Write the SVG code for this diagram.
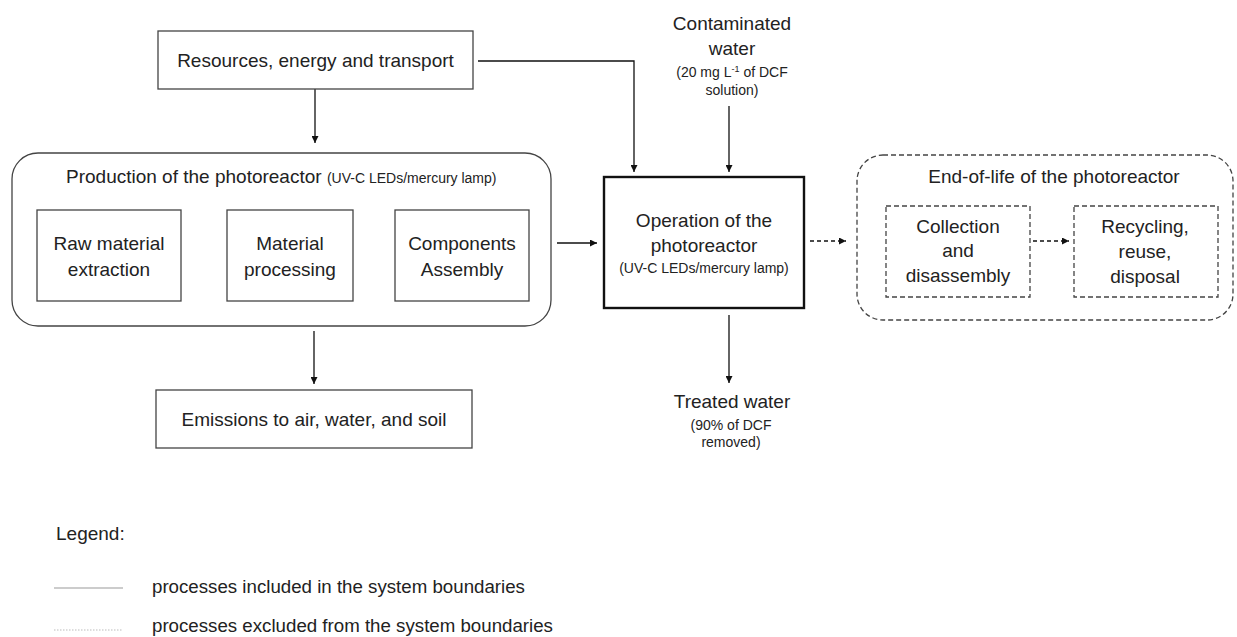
<svg xmlns="http://www.w3.org/2000/svg" width="1237" height="637" viewBox="0 0 1237 637">
<defs>
<marker id="ah" viewBox="0 0 10 10" refX="10" refY="5" markerWidth="7" markerHeight="7" markerUnits="userSpaceOnUse" orient="auto"><path d="M0,0 L10,5 L0,10 z" fill="#111"/></marker>
<style>
text{font-family:"Liberation Sans",Arial,sans-serif;fill:#222;}
.t{font-size:19px;text-anchor:middle;}
.s{font-size:14px;text-anchor:middle;}
.box{fill:#fff;stroke:#444;stroke-width:1.3;}
.dbox{fill:none;stroke:#444;stroke-width:1.3;stroke-dasharray:5 3;}
.c{fill:none;stroke:#111;stroke-width:1.3;}
.cd{fill:none;stroke:#111;stroke-width:1.3;stroke-dasharray:4 3;}
</style>
</defs>
<rect width="1237" height="637" fill="#fff"/>

<g id="connectors">
<path class="c" d="M315,89 V143" marker-end="url(#ah)"/>
<path class="c" d="M478,61 H634 V172" marker-end="url(#ah)"/>
<path class="c" d="M729,106 V172" marker-end="url(#ah)"/>
<path class="c" d="M184,257 H222" marker-end="url(#ah)"/>
<path class="c" d="M353,258 H391" marker-end="url(#ah)"/>
<path class="c" d="M557,243 H597" marker-end="url(#ah)"/>
<path class="cd" d="M810,241 H846" marker-end="url(#ah)"/>
<path class="cd" d="M1033,241 H1069" marker-end="url(#ah)"/>
<path class="c" d="M314,331 V384" marker-end="url(#ah)"/>
<path class="c" d="M729,315 V383" marker-end="url(#ah)"/>
</g>

<g id="resources">
<rect class="box" x="158" y="31" width="315" height="58"/>
<text class="t" x="315.5" y="67">Resources, energy and transport</text>
</g>

<g id="production">
<rect class="box" x="12" y="153" width="539" height="173" rx="26"/>
<text x="66" y="183" style="font-size:19px">Production of the photoreactor <tspan style="font-size:14px">(UV-C LEDs/mercury lamp)</tspan></text>
</g>

<g id="raw">
<rect class="box" x="37" y="210" width="144" height="91"/>
<text class="t" x="109" y="250">Raw material</text>
<text class="t" x="109" y="276">extraction</text>
</g>

<g id="processing">
<rect class="box" x="227" y="210" width="126" height="91"/>
<text class="t" x="290" y="250">Material</text>
<text class="t" x="290" y="276">processing</text>
</g>

<g id="assembly">
<rect class="box" x="395" y="210" width="134" height="91"/>
<text class="t" x="462" y="250">Components</text>
<text class="t" x="462" y="276">Assembly</text>
</g>

<g id="operation">
<rect x="604" y="177" width="200" height="131" fill="#fff" stroke="#111" stroke-width="2.4"/>
<text class="t" x="704" y="227">Operation of the</text>
<text class="t" x="704" y="252">photoreactor</text>
<text class="s" x="704" y="273">(UV-C LEDs/mercury lamp)</text>
</g>

<g id="contaminated">
<text class="t" x="732" y="30">Contaminated</text>
<text class="t" x="732" y="55">water</text>
<text class="s" x="732" y="77">(20 mg L<tspan dy="-5" style="font-size:9px">-1</tspan><tspan dy="5"> of DCF</tspan></text>
<text class="s" x="732" y="95">solution)</text>
</g>

<g id="treated">
<text class="t" x="732" y="408">Treated water</text>
<text class="s" x="731" y="430">(90% of DCF</text>
<text class="s" x="731" y="447">removed)</text>
</g>

<g id="endoflife">
<rect class="dbox" x="857" y="155" width="376" height="165" rx="26"/>
<text class="t" x="1054" y="183">End-of-life of the photoreactor</text>
</g>

<g id="collection">
<rect class="dbox" x="886" y="206" width="144" height="91"/>
<text class="t" x="958" y="233">Collection</text>
<text class="t" x="958" y="257">and</text>
<text class="t" x="958" y="282">disassembly</text>
</g>

<g id="recycling">
<rect class="dbox" x="1074" y="206" width="144" height="91"/>
<text class="t" x="1145" y="233">Recycling,</text>
<text class="t" x="1145" y="258">reuse,</text>
<text class="t" x="1145" y="283">disposal</text>
</g>

<g id="emissions">
<rect class="box" x="156" y="390" width="316" height="58"/>
<text class="t" x="314" y="426">Emissions to air, water, and soil</text>
</g>

<g id="legend">
<text x="56" y="540" style="font-size:19px">Legend:</text>
<line x1="54" y1="588" x2="123" y2="588" stroke="#999" stroke-width="1.2"/>
<text x="152" y="593" style="font-size:18.7px">processes included in the system boundaries</text>
<line x1="54" y1="630" x2="123" y2="630" stroke="#bbb" stroke-width="1.2" stroke-dasharray="1.5 1.5"/>
<text x="152" y="632" style="font-size:18.7px">processes excluded from the system boundaries</text>
</g>
</svg>
